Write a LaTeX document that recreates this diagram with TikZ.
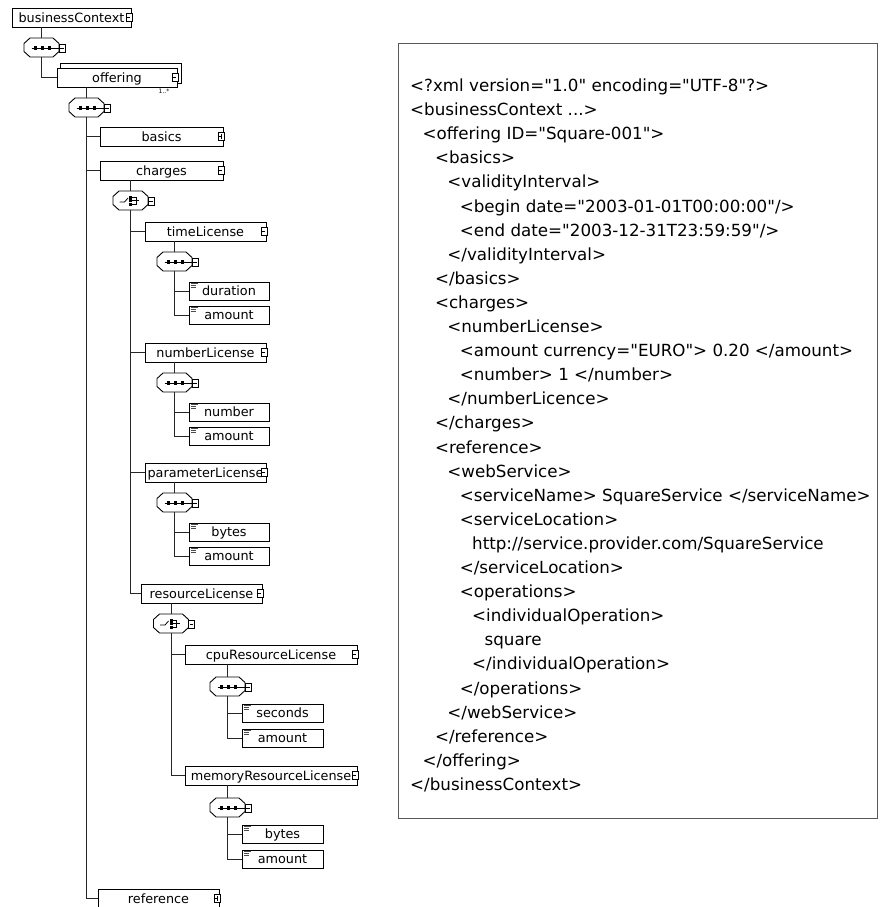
\documentclass[tikz,border=0pt]{standalone}
\usepackage{fontspec}
\setmainfont{DejaVu Sans}[Ligatures=TeXOff]
\usetikzlibrary{calc}
\newcommand\treefont{\fontsize{12.8}{14}\selectfont}
\newcommand\xmlfont{\fontsize{16.7}{20}\selectfont}
\newcommand\multfont{\fontsize{6}{6}\selectfont}
\tikzset{
  elem/.style={draw=black, fill=white, line width=0.8pt, inner sep=0pt, minimum height=19pt, font=\treefont, text height=9.6pt, text depth=0pt},
  leaf/.style={elem, minimum height=18pt, minimum width=80pt},
  compnode/.style={inner sep=0pt, minimum width=35pt, minimum height=19pt},
  conn/.style={line width=0.9pt, draw=black!85},
  compline/.style={line width=0.9pt, draw=black, fill=white},
  expbox/.style={line width=0.6pt, draw=black, fill=white},
  iconline/.style={line width=0.7pt, draw=black!70},
  xmlline/.style={anchor=base west, inner sep=0pt, font=\xmlfont},
  mult/.style={inner sep=0pt, font=\multfont},
}
\newcommand\octa{%
  \draw[compline] (-17.5,-4) -- (-11.5,-9.5) -- (11.5,-9.5) -- (17.5,-4) -- (17.5,4) -- (11.5,9.5) -- (-11.5,9.5) -- (-17.5,4) -- cycle;
  \draw[expbox] (17.5,-3.5) rectangle (23.5,4.5);
  \draw[line width=0.6pt] (18.8,0.5) -- (22.2,0.5);}
\newcommand\seqcomp[3]{%
  \node[compnode] (#1) at (#2,#3) {};
  \begin{scope}[shift={(#2,#3)}]
    \octa
    \draw[line width=0.8pt] (-10,0.5) -- (17.5,0.5);
    \foreach \q in {-6,1,8} \fill (\q-1.6,-1.1) rectangle (\q+1.6,2.1);
  \end{scope}}
\newcommand\choicecomp[3]{%
  \node[compnode] (#1) at (#2,#3) {};
  \begin{scope}[shift={(#2,#3)}]
    \octa
    \draw[line width=0.8pt] (-11,1.5) -- (-6,1.5) -- (-2.5,-2.5);
    \fill (-1.5,-5) rectangle (1.5,-2);
    \fill (-1.5,-1.2) rectangle (1.5,1.8);
    \fill (-1.5,2.6) rectangle (1.5,5.6);
    \draw[line width=0.7pt] (1.5,-3.5) -- (5.5,-3.5) -- (5.5,4.1) -- (1.5,4.1);
    \draw[line width=0.7pt] (1.5,0.3) -- (8.5,0.3);
  \end{scope}}
\newcommand\boxexp[2]{%
  \begin{scope}[shift={(#1.east)}]
    \draw[expbox] (-5.5,-4) rectangle (0.5,4);
    \draw[line width=0.6pt] (-4,0) -- (-1,0);
    \ifnum#2=1 \draw[line width=0.6pt] (-2.5,-2.5) -- (-2.5,2.5);\fi
  \end{scope}}
\newcommand\leaficon[1]{%
  \begin{scope}[shift={(#1.north west)}]
    \draw[iconline] (2.5,2.2) -- (9,2.2);
    \draw[iconline] (2.5,4) -- (7,4);
    \draw[iconline] (2.5,5.8) -- (7,5.8);
  \end{scope}}
\begin{document}
\begin{tikzpicture}[x=1pt,y=-1pt]
\useasboundingbox (0,0) rectangle (879,907);
\fill[white] (0,0) rectangle (879,907);

% ---------------- tree ----------------
\node[elem, minimum width=119] (bc) at (71.5,17.5) {businessContext};
\seqcomp{c1}{41.5}{47.5}
\node[elem, minimum width=120] (off) at (117,77.5) {offering};
\draw[line width=0.8pt] ($(off.north west)+(4,0)$) -- ++(0,-4) -| ($(off.south east)+(4,-4)$) -- ++(-4,0);
\node[mult] (offmult) at (164,91) {1..*};
\seqcomp{c2}{86.5}{107.5}
\node[elem, minimum width=123] (basics) at (161.5,136.5) {basics};
\node[elem, minimum width=123] (charges) at (161.5,170.5) {charges};
\choicecomp{c3}{130.5}{200.5}

\node[elem, minimum width=121] (time) at (205.5,231.5) {timeLicense};
\seqcomp{c4}{174.5}{261.5}
\node[leaf] (duration) at (229,291) {duration};
\node[leaf] (tamount) at (229,315) {amount};

\node[elem, minimum width=121] (number) at (205.5,352.5) {numberLicense};
\seqcomp{c5}{174.5}{382.5}
\node[leaf] (nnumber) at (229,412) {number};
\node[leaf] (namount) at (229,436) {amount};

\node[elem, minimum width=121] (param) at (205.5,472.5) {parameterLicense};
\seqcomp{c6}{174.5}{502.5}
\node[leaf] (pbytes) at (229,532) {bytes};
\node[leaf] (pamount) at (229,556) {amount};

\node[elem, minimum width=121] (resource) at (201.5,593.5) {resourceLicense};
\choicecomp{c7}{171}{623.5}
\node[elem, minimum width=172] (cpu) at (271,654.5) {cpuResourceLicense};
\seqcomp{c8}{227.5}{686.5}
\node[leaf, minimum width=81] (cseconds) at (282.5,713) {seconds};
\node[leaf, minimum width=81] (camount) at (282.5,738) {amount};
\node[elem, minimum width=172] (memory) at (271,775.5) {memoryResourceLicense};
\seqcomp{c9}{227.5}{807.5}
\node[leaf, minimum width=81] (mbytes) at (282.5,834) {bytes};
\node[leaf, minimum width=81] (mamount) at (282.5,859) {amount};

\node[elem, minimum width=121] (ref) at (158.5,898.5) {reference};

% expanders
\boxexp{bc}{0}
\boxexp{off}{0}
\boxexp{basics}{1}
\boxexp{charges}{0}
\boxexp{time}{0}
\boxexp{number}{0}
\boxexp{param}{0}
\boxexp{resource}{0}
\boxexp{cpu}{0}
\boxexp{memory}{0}
\boxexp{ref}{1}
% leaf icons
\leaficon{duration}\leaficon{tamount}
\leaficon{nnumber}\leaficon{namount}
\leaficon{pbytes}\leaficon{pamount}
\leaficon{cseconds}\leaficon{camount}
\leaficon{mbytes}\leaficon{mamount}

% connectors
\draw[conn] (bc.south -| c1.north) -- (c1.north);
\draw[conn] (c1.south) |- (off.west);
\draw[conn] (off.south -| c2.north) -- (c2.north);
\draw[conn] (c2.south) |- (basics.west);
\draw[conn] (c2.south) |- (charges.west);
\draw[conn] (c2.south) |- (ref.west);
\draw[conn] (charges.south -| c3.north) -- (c3.north);
\draw[conn] (c3.south) |- (time.west);
\draw[conn] (c3.south) |- (number.west);
\draw[conn] (c3.south) |- (param.west);
\draw[conn] (c3.south) |- (resource.west);
\draw[conn] (time.south -| c4.north) -- (c4.north);
\draw[conn] (c4.south) |- (duration.west);
\draw[conn] (c4.south) |- (tamount.west);
\draw[conn] (number.south -| c5.north) -- (c5.north);
\draw[conn] (c5.south) |- (nnumber.west);
\draw[conn] (c5.south) |- (namount.west);
\draw[conn] (param.south -| c6.north) -- (c6.north);
\draw[conn] (c6.south) |- (pbytes.west);
\draw[conn] (c6.south) |- (pamount.west);
\draw[conn] (resource.south -| c7.north) -- (c7.north);
\draw[conn] (c7.south) |- (cpu.west);
\draw[conn] (c7.south) |- (memory.west);
\draw[conn] (cpu.south -| c8.north) -- (c8.north);
\draw[conn] (c8.south) |- (cseconds.west);
\draw[conn] (c8.south) |- (camount.west);
\draw[conn] (memory.south -| c9.north) -- (c9.north);
\draw[conn] (c9.south) |- (mbytes.west);
\draw[conn] (c9.south) |- (mamount.west);

% ---------------- XML ----------------
\node[draw=black!65, line width=1.4pt, anchor=north west, minimum width=479, minimum height=775, inner sep=0pt] (xmlbox) at (398,43) {};
\node[xmlline] (x1) at (410,91.5) {<?xml version="1.0" encoding="UTF-8"?>};
\node[xmlline] (x2) at (410,115.6) {<businessContext ...>};
\node[xmlline] (x3) at (422.4,139.7) {<offering ID="Square-001">};
\node[xmlline] (x4) at (434.8,163.8) {<basics>};
\node[xmlline] (x5) at (447.2,187.9) {<validityInterval>};
\node[xmlline] (x6) at (459.6,212.0) {<begin date="2003-01-01T00:00:00"/>};
\node[xmlline] (x7) at (459.6,236.1) {<end date="2003-12-31T23:59:59"/>};
\node[xmlline] (x8) at (447.2,260.2) {</validityInterval>};
\node[xmlline] (x9) at (434.8,284.3) {</basics>};
\node[xmlline] (x10) at (434.8,308.4) {<charges>};
\node[xmlline] (x11) at (447.2,332.5) {<numberLicense>};
\node[xmlline] (x12) at (459.6,356.6) {<amount currency="EURO"> 0.20 </amount>};
\node[xmlline] (x13) at (459.6,380.7) {<number> 1 </number>};
\node[xmlline] (x14) at (447.2,404.8) {</numberLicence>};
\node[xmlline] (x15) at (434.8,428.9) {</charges>};
\node[xmlline] (x16) at (434.8,453.0) {<reference>};
\node[xmlline] (x17) at (447.2,477.1) {<webService>};
\node[xmlline] (x18) at (459.6,501.2) {<serviceName> SquareService </serviceName>};
\node[xmlline] (x19) at (459.6,525.3) {<serviceLocation>};
\node[xmlline] (x20) at (472,549.4) {http://service.provider.com/SquareService};
\node[xmlline] (x21) at (459.6,573.5) {</serviceLocation>};
\node[xmlline] (x22) at (459.6,597.6) {<operations>};
\node[xmlline] (x23) at (472,621.7) {<individualOperation>};
\node[xmlline] (x24) at (484.4,645.8) {square};
\node[xmlline] (x25) at (472,669.9) {</individualOperation>};
\node[xmlline] (x26) at (459.6,694.0) {</operations>};
\node[xmlline] (x27) at (447.2,718.1) {</webService>};
\node[xmlline] (x28) at (434.8,742.2) {</reference>};
\node[xmlline] (x29) at (422.4,766.3) {</offering>};
\node[xmlline] (x30) at (410,790.4) {</businessContext>};
\end{tikzpicture}
\end{document}
